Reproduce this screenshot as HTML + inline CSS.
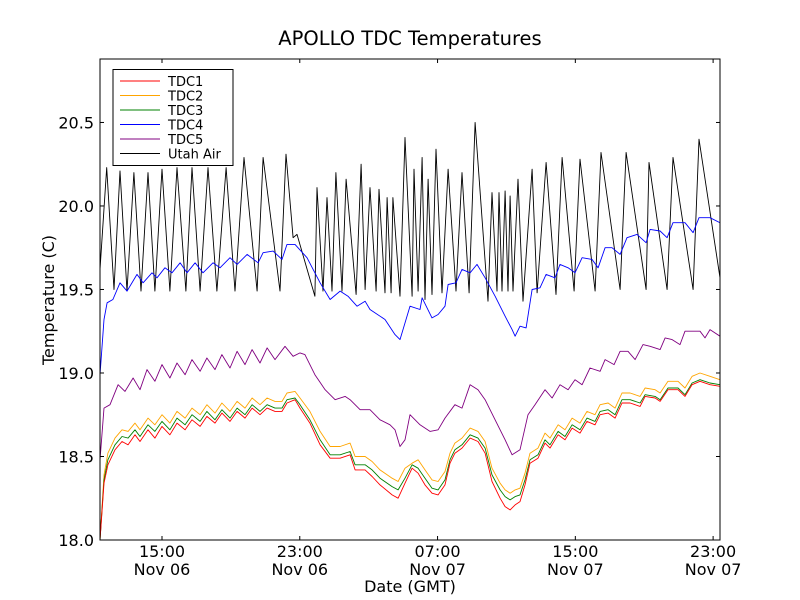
<!DOCTYPE html>
<html><head><meta charset="utf-8"><style>
body{margin:0;background:#fff;}
svg{display:block;font-family:"DejaVu Sans","Liberation Sans",sans-serif;}
</style></head><body>
<svg id="chart" width="800" height="600" viewBox="0 0 800 600">
<rect x="0" y="0" width="800" height="600" fill="#fff"/>
<text x="410" y="45" font-size="19.5" text-anchor="middle">APOLLO TDC Temperatures</text>
<text x="410" y="592" font-size="16" text-anchor="middle">Date (GMT)</text>
<text x="54" y="300" font-size="16" text-anchor="middle" transform="rotate(-90 54 300)">Temperature (C)</text>
<g id="plot"></g>
</svg>
<script>
const xMin=11.4, xMax=47.4, yMin=18.0, yMax=20.88;
const yTicks=[18.0,18.5,19.0,19.5,20.0,20.5];
const yTickLabels=["18.0","18.5","19.0","19.5","20.0","20.5"];
const xTicks=[15,23,31,39,47];
const xTickTimes=["15:00","23:00","07:00","15:00","23:00"];
const xTickDates=["Nov 06","Nov 06","Nov 07","Nov 07","Nov 07"];

const airT=[11.40,11.79,12.21,12.56,12.97,13.37,13.78,14.19,14.59,15.00,15.46,15.87,16.39,16.74,17.21,17.67,18.19,18.72,19.24,19.76,20.52,20.87,21.85,22.20,22.61,22.84,23.88,24.00,24.35,24.58,24.87,25.10,25.45,25.69,26.27,26.56,26.79,27.08,27.43,27.60,27.95,28.07,28.30,28.41,28.82,29.11,29.52,29.63,29.87,30.10,30.27,30.45,30.68,30.91,31.26,31.61,32.07,32.42,32.83,33.18,33.93,34.16,34.45,34.57,34.74,34.92,35.09,35.21,35.38,35.67,35.96,36.49,36.78,37.30,37.88,38.23,38.93,39.27,40.15,40.49,41.60,41.95,43.11,43.28,44.33,44.67,45.84,46.18,47.40];
const airV=[19.62,20.23,19.50,20.21,19.49,20.20,19.49,20.20,19.49,20.22,19.49,20.23,19.49,20.23,19.49,20.23,19.49,20.23,19.49,20.29,19.49,20.29,19.49,20.31,19.81,19.83,19.46,20.11,19.49,20.05,19.49,20.20,19.49,20.16,19.47,20.25,19.50,20.11,19.49,20.10,19.48,20.05,19.48,20.05,19.46,20.41,19.46,20.22,19.49,20.29,19.44,20.16,19.47,20.34,19.48,20.22,19.49,20.20,19.48,20.50,19.43,20.08,19.49,20.08,19.49,20.09,19.49,20.06,19.49,20.16,19.43,20.22,19.48,20.26,19.47,20.29,19.49,20.28,19.49,20.32,19.50,20.32,19.50,20.26,19.50,20.29,19.50,20.40,19.57];

const tdc4T=[11.40,11.63,11.81,12.15,12.56,12.97,13.55,13.90,14.42,14.71,15.17,15.58,16.05,16.45,16.92,17.38,17.96,18.37,18.95,19.36,19.94,20.58,20.87,21.45,21.97,22.26,22.72,23.42,24.18,24.76,25.34,25.80,26.32,26.79,27.08,27.95,28.53,28.82,29.40,29.98,30.10,30.68,31.03,31.43,31.61,32.07,32.42,32.89,33.29,33.76,34.34,34.92,35.33,35.50,35.79,36.14,36.49,36.95,37.30,37.82,38.11,38.58,38.98,39.39,39.97,40.32,40.73,41.13,41.60,42.00,42.58,43.11,43.34,43.92,44.33,44.67,45.37,45.84,46.18,46.82,47.40];
const tdc4V=[18.99,19.32,19.42,19.44,19.54,19.49,19.59,19.54,19.60,19.57,19.63,19.60,19.66,19.60,19.66,19.60,19.66,19.63,19.69,19.65,19.71,19.66,19.72,19.73,19.68,19.77,19.77,19.69,19.54,19.44,19.49,19.46,19.40,19.43,19.38,19.32,19.23,19.20,19.40,19.38,19.45,19.33,19.35,19.40,19.53,19.54,19.62,19.60,19.65,19.57,19.46,19.34,19.26,19.22,19.28,19.27,19.50,19.51,19.59,19.57,19.65,19.63,19.60,19.69,19.68,19.63,19.75,19.75,19.71,19.81,19.83,19.78,19.86,19.85,19.81,19.90,19.90,19.84,19.93,19.93,19.90];

const tdc5T=[11.40,11.63,11.98,12.45,12.85,13.32,13.72,14.13,14.59,15.00,15.46,15.87,16.34,16.74,17.21,17.61,18.08,18.48,18.95,19.36,19.82,20.23,20.69,21.10,21.56,22.14,22.61,23.01,23.30,23.88,24.47,25.05,25.63,25.92,26.50,27.08,27.66,28.24,28.53,28.82,29.11,29.40,29.98,30.56,31.03,31.43,32.01,32.42,32.89,33.35,33.76,34.34,34.92,35.33,35.79,36.25,36.66,37.24,37.65,38.11,38.58,38.98,39.39,39.85,40.44,40.73,41.25,41.60,42.06,42.47,42.93,43.34,43.92,44.21,44.62,45.08,45.37,46.24,46.53,46.82,47.40];
const tdc5V=[18.48,18.79,18.81,18.93,18.89,18.97,18.90,19.02,18.95,19.05,18.97,19.06,18.99,19.08,19.01,19.09,19.02,19.11,19.03,19.13,19.05,19.14,19.06,19.15,19.08,19.16,19.10,19.12,19.11,18.99,18.90,18.84,18.86,18.84,18.78,18.78,18.72,18.69,18.66,18.56,18.60,18.75,18.69,18.65,18.66,18.73,18.81,18.79,18.93,18.90,18.84,18.72,18.60,18.51,18.54,18.75,18.81,18.90,18.85,18.93,18.90,18.96,18.93,19.03,19.01,19.08,19.05,19.13,19.13,19.08,19.17,19.16,19.14,19.21,19.20,19.17,19.25,19.25,19.21,19.26,19.22];

const lowT=[11.40,11.63,11.86,12.27,12.68,13.03,13.43,13.72,14.19,14.59,15.00,15.46,15.87,16.34,16.74,17.21,17.61,18.08,18.48,18.95,19.36,19.82,20.23,20.69,21.10,21.56,21.97,22.26,22.72,23.01,23.59,24.18,24.76,25.34,25.92,26.21,26.79,27.20,27.66,28.36,28.71,29.11,29.52,29.87,30.27,30.68,31.03,31.43,31.72,32.01,32.42,32.89,33.35,33.76,34.16,34.63,34.92,35.21,35.50,35.79,36.08,36.37,36.83,37.24,37.53,38.00,38.40,38.81,39.27,39.68,40.14,40.44,40.90,41.31,41.71,42.18,42.76,43.05,43.63,43.92,44.38,44.96,45.37,45.78,46.24,46.82,47.40];
const tdc3V=[18.00,18.36,18.48,18.57,18.62,18.61,18.66,18.62,18.69,18.65,18.71,18.66,18.73,18.69,18.75,18.71,18.77,18.72,18.78,18.73,18.79,18.75,18.81,18.77,18.81,18.79,18.79,18.84,18.85,18.81,18.72,18.60,18.51,18.51,18.53,18.45,18.45,18.42,18.37,18.32,18.30,18.37,18.45,18.43,18.37,18.31,18.30,18.36,18.48,18.54,18.57,18.63,18.61,18.55,18.39,18.30,18.26,18.24,18.26,18.27,18.36,18.48,18.51,18.60,18.57,18.65,18.62,18.69,18.66,18.73,18.71,18.77,18.78,18.75,18.84,18.84,18.82,18.87,18.86,18.84,18.91,18.91,18.87,18.94,18.96,18.94,18.93];
const tdc2V=[18.00,18.39,18.52,18.61,18.66,18.65,18.70,18.66,18.73,18.69,18.75,18.70,18.77,18.73,18.79,18.75,18.81,18.76,18.82,18.77,18.83,18.79,18.85,18.81,18.85,18.83,18.83,18.88,18.89,18.85,18.77,18.65,18.56,18.56,18.58,18.50,18.50,18.47,18.42,18.37,18.35,18.43,18.46,18.48,18.42,18.36,18.35,18.41,18.52,18.58,18.61,18.67,18.65,18.59,18.43,18.34,18.30,18.28,18.30,18.31,18.40,18.52,18.55,18.64,18.61,18.69,18.66,18.73,18.70,18.77,18.75,18.81,18.82,18.79,18.88,18.88,18.86,18.91,18.90,18.88,18.95,18.95,18.91,18.98,19.00,18.98,18.96];
const tdc1V=[18.00,18.34,18.45,18.54,18.59,18.57,18.63,18.59,18.66,18.61,18.68,18.63,18.70,18.66,18.72,18.68,18.74,18.70,18.76,18.71,18.77,18.73,18.79,18.75,18.79,18.77,18.77,18.82,18.84,18.79,18.70,18.57,18.49,18.49,18.51,18.42,18.42,18.38,18.33,18.27,18.25,18.34,18.43,18.40,18.33,18.28,18.27,18.33,18.46,18.52,18.55,18.61,18.59,18.52,18.35,18.25,18.20,18.18,18.21,18.23,18.33,18.46,18.49,18.58,18.55,18.63,18.60,18.67,18.64,18.71,18.69,18.75,18.76,18.73,18.82,18.82,18.80,18.86,18.85,18.83,18.90,18.90,18.86,18.93,18.95,18.93,18.92];

const seriesNames=["TDC1","TDC2","TDC3","TDC4","TDC5","Utah Air"];

const L=100,R=720,T=59,B=540;
const NS="http://www.w3.org/2000/svg";
function xs(h){return L+(h-xMin)/(xMax-xMin)*(R-L);}
function ys(v){return B-(v-yMin)/(yMax-yMin)*(B-T);}
const plot=document.getElementById('plot');
function mk(tag,attrs,parent){const e=document.createElementNS(NS,tag);for(const k in attrs)e.setAttribute(k,attrs[k]);(parent||plot).appendChild(e);return e;}

const clip=mk('clipPath',{id:'clip'});mk('rect',{x:L,y:T,width:R-L,height:B-T},clip);
const lines=mk('g',{'clip-path':'url(#clip)'});


function drawLine(ts,vs,color,name){
  const n=Math.min(ts.length,vs.length);let d='';
  for(let i=0;i<n;i++)d+=(i?'L':'M')+xs(ts[i]).toFixed(1)+' '+ys(vs[i]).toFixed(1);
  const p=mk('path',{d:d,fill:'none',stroke:color,'stroke-width':0.9,'stroke-linejoin':'round'},lines);
  
  
}
drawLine(airT,airV,'#000','line-utah-air');
drawLine(tdc4T,tdc4V,'#0000ff','line-tdc4');
drawLine(tdc5T,tdc5V,'#800080','line-tdc5');
drawLine(lowT,tdc2V,'#ffa500','line-tdc2');
drawLine(lowT,tdc3V,'#008000','line-tdc3');
drawLine(lowT,tdc1V,'#ff0000','line-tdc1');

const frame=mk('rect',{x:L,y:T,width:R-L,height:B-T,fill:'none',stroke:'#000','stroke-width':1});



yTicks.forEach((v,i)=>{
  const y=ys(v);
  mk('line',{x1:L,x2:L+4,y1:y,y2:y,stroke:'#000'});
  mk('line',{x1:R-4,x2:R,y1:y,y2:y,stroke:'#000'});
  const t=mk('text',{x:L-6,y:y+6,'font-size':16,'text-anchor':'end'});
  t.textContent=yTickLabels[i];
  
  
});
xTicks.forEach((h,i)=>{
  const x=xs(h);
  mk('line',{x1:x,x2:x,y1:B,y2:B-4,stroke:'#000'});
  mk('line',{x1:x,x2:x,y1:T,y2:T+4,stroke:'#000'});
  const t=mk('text',{x:x,y:B+17,'font-size':16,'text-anchor':'middle'});
  t.textContent=xTickTimes[i];
  
  
  const t2=mk('text',{x:x,y:B+35,'font-size':16,'text-anchor':'middle'});
  t2.textContent=xTickDates[i];
  
  
});

const legend=mk('g',{});


mk('rect',{x:113,y:69.5,width:120,height:96,fill:'#fff',stroke:'#000','stroke-width':1},legend);
const legColors=['#ff0000','#ffa500','#008000','#0000ff','#800080','#000'];
seriesNames.forEach((nm,i)=>{
  const y=81+i*14.5;
  const g=mk('g',{},legend);
  
  
  mk('line',{x1:120,x2:160,y1:y,y2:y,stroke:legColors[i],'stroke-width':0.9},g);
  const t=mk('text',{x:168,y:y+5,'font-size':13},g);
  t.textContent=nm;
});
</script>
</body></html>
